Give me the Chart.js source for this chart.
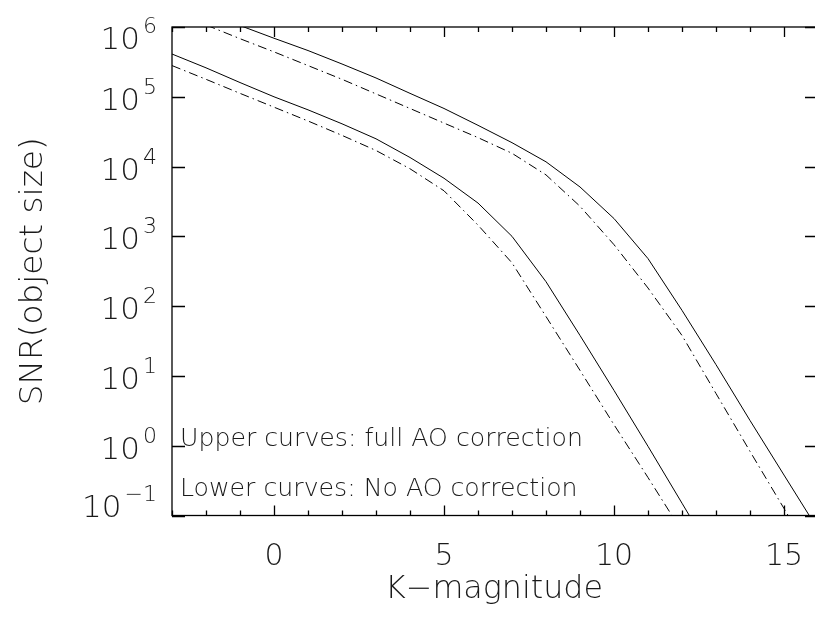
<!DOCTYPE html>
<html>
<head>
<meta charset="utf-8">
<script src="https://cdn.jsdelivr.net/npm/chart.js@4.4.0/dist/chart.umd.min.js"></script>
<style>
    html, body { margin: 0; padding: 0; background: #fff; overflow: hidden; }
    #wrap { width: 830px; height: 618px; }
</style>
</head>
<body>
<div id="wrap"><canvas id="snr-chart" width="830" height="618"></canvas></div>
<script>
const kMag = [-3, -2, -1, 0, 1, 2, 3, 4, 5, 6, 7, 8, 9, 10, 11, 12, 13, 14, 15, 16];

// full AO correction
const upperSolid = [2.4e6, 1.58e6, 1.05e6, 6.9e5, 4.6e5, 2.95e5, 1.86e5, 1.12e5, 6.8e4, 3.9e4,
    2.2e4, 1.17e4, 5.1e3, 1.8e3, 480, 87, 14.5, 2.3, 0.38, 0.063];
const upperDashDot = [1.66e6, 1.07e6, 6.8e5, 4.4e5, 2.8e5, 1.78e5, 1.1e5, 6.8e4, 4.2e4, 2.6e4,
    1.55e4, 7.6e3, 2.7e3, 760, 182, 38, 5.6, 0.83, 0.126, 0.019];

// no AO correction
const lowerSolid = [4.1e5, 2.6e5, 1.6e5, 1.0e5, 6.5e4, 4.1e4, 2.5e4, 1.35e4, 6.8e3, 3.0e3,
    1.0e3, 224, 38, 6.2, 0.98, 0.15, 0.023];
const lowerDashDot = [2.8e5, 1.78e5, 1.12e5, 7.1e4, 4.5e4, 2.8e4, 1.7e4, 9.3e3, 4.5e3, 1.45e3,
    417, 71, 12, 2.0, 0.35, 0.059];

const xMajorTicks = [0, 5, 10, 15];
const yExponents = [-1, 0, 1, 2, 3, 4, 5, 6];

const FONT = '"DejaVu Sans", sans-serif';
const DASH_DOT = [9, 4, 1.5, 4];

function toPoints(values) {
    return values.map((v, i) => ({ x: kMag[i], y: v }));
}

function lineSet(values, dashed) {
    return {
        data: toPoints(values),
        borderColor: '#000',
        borderWidth: 1,
        borderDash: dashed ? DASH_DOT : [],
        pointRadius: 0,
        tension: 0,
        fill: false
    };
}

// sets font size so the text spans the wanted width
function fitFont(ctx, text, width) {
    ctx.font = `200 30px ${FONT}`;
    const size = 30 * width / ctx.measureText(text).width;
    ctx.font = `200 ${size}px ${FONT}`;
    return size;
}

const framePlugin = {
    id: 'idlFrame',
    afterDraw(chart) {
        const { ctx, chartArea: a } = chart;
        const xs = chart.scales.x;
        const ys = chart.scales.y;
        ctx.save();
        ctx.strokeStyle = '#000';
        ctx.fillStyle = '#1a1a1a';
        ctx.lineWidth = 1.3;

        ctx.strokeRect(a.left, a.top, a.right - a.left, a.bottom - a.top);

        // x ticks, inward on bottom and top
        ctx.beginPath();
        for (let v = Math.ceil(xs.min); v <= xs.max; v++) {
            const px = Math.round(xs.getPixelForValue(v)) + 0.5;
            const len = xMajorTicks.includes(v) ? 10 : 5;
            ctx.moveTo(px, a.bottom); ctx.lineTo(px, a.bottom - len);
            ctx.moveTo(px, a.top); ctx.lineTo(px, a.top + len);
        }
        // y ticks, decades only
        yExponents.forEach(e => {
            const py = Math.round(ys.getPixelForValue(Math.pow(10, e))) + 0.5;
            ctx.moveTo(a.left, py); ctx.lineTo(a.left + 13, py);
            ctx.moveTo(a.right, py); ctx.lineTo(a.right - 13, py);
        });
        ctx.stroke();

        // x tick labels
        ctx.textAlign = 'center';
        ctx.textBaseline = 'alphabetic';
        ctx.font = `200 30px ${FONT}`;
        xMajorTicks.forEach(v => {
            ctx.fillText(String(v), xs.getPixelForValue(v), a.bottom + 49);
        });

        // y tick labels as 10 with exponent
        ctx.textAlign = 'left';
        yExponents.forEach((e, i) => {
            const py = ys.getPixelForValue(Math.pow(10, e));
            let shift = 0;
            if (i === yExponents.length - 1) shift = 9;
            if (i === 0) shift = -12;
            const sup = e < 0 ? '\u2212' + (-e) : String(e);
            const rightEdge = a.left - 15;
            ctx.font = `200 22px ${FONT}`;
            const wSup = ctx.measureText(sup).width;
            ctx.fillText(sup, rightEdge - wSup, py - 3 + shift);
            ctx.font = `200 31px ${FONT}`;
            const wBase = ctx.measureText('10').width;
            ctx.fillText('10', rightEdge - wSup - 3 - wBase, py + 13 + shift);
        });

        // axis titles
        ctx.textAlign = 'center';
        fitFont(ctx, 'K\u2212magnitude', 218);
        ctx.fillText('K\u2212magnitude', 494, 598);

        ctx.save();
        ctx.translate(42, (a.top + a.bottom) / 2);
        ctx.rotate(-Math.PI / 2);
        fitFont(ctx, 'SNR(object size)', 268);
        ctx.fillText('SNR(object size)', 0, 0);
        ctx.restore();

        // notes inside the plot
        ctx.textAlign = 'left';
        const noteY = ys.getPixelForValue(1);
        fitFont(ctx, 'Upper curves: full AO correction', 403);
        ctx.fillText('Upper curves: full AO correction', a.left + 8, noteY);
        ctx.fillText('Lower curves: No AO correction', a.left + 8, noteY + 50);

        ctx.restore();
    }
};

const ctx = document.getElementById('snr-chart').getContext('2d');
new Chart(ctx, {
    type: 'line',
    data: {
        datasets: [
            lineSet(upperSolid, false),
            lineSet(upperDashDot, true),
            lineSet(lowerSolid, false),
            lineSet(lowerDashDot, true)
        ]
    },
    options: {
        responsive: false,
        animation: false,
        devicePixelRatio: 1,
        layout: { padding: { left: 172, top: 27, right: 12, bottom: 102.5 } },
        plugins: {
            legend: { display: false },
            tooltip: { enabled: false }
        },
        scales: {
            x: { type: 'linear', min: -3, max: 16, display: false },
            y: { type: 'logarithmic', min: 0.1, max: 1e6, display: false }
        }
    },
    plugins: [framePlugin]
});
</script>
</body>
</html>
